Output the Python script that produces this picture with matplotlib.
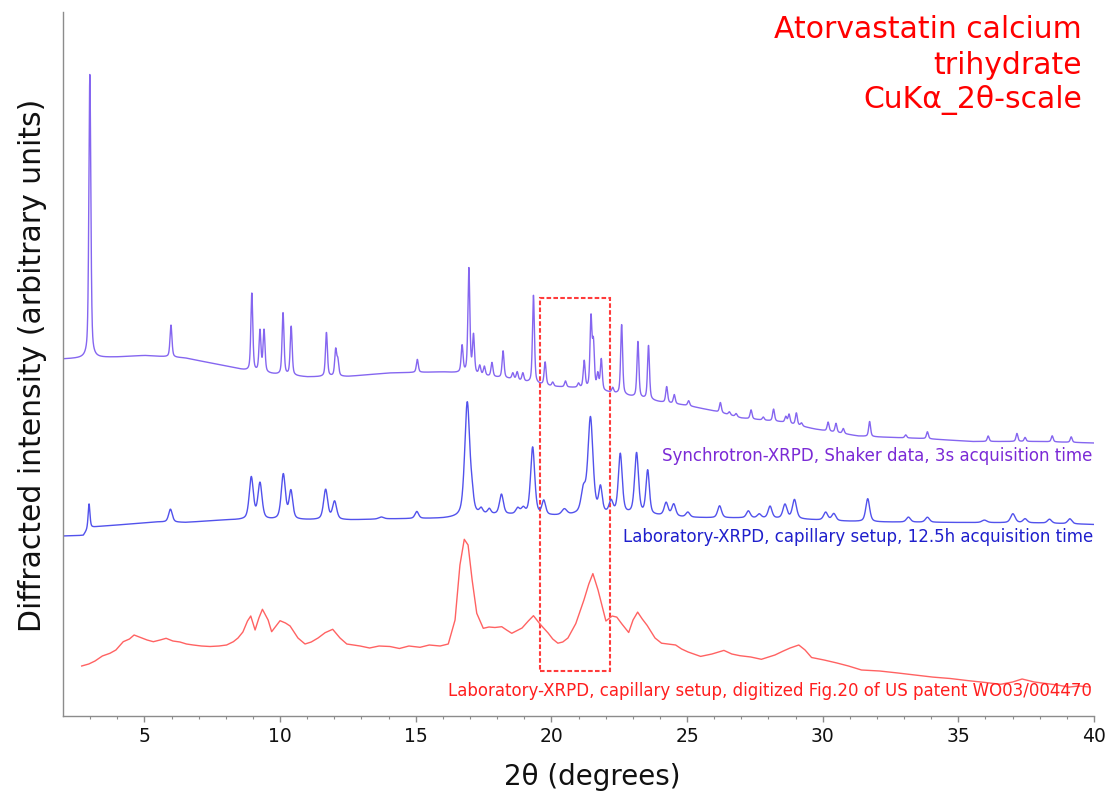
import numpy as np
import matplotlib
matplotlib.use("Agg")
import matplotlib.pyplot as plt
from matplotlib.patches import Rectangle

plt.rcParams['font.family'] = ['DejaVu Sans']

# ---------------- data ----------------
# Synchrotron pattern: background anchors and Bragg peaks (2theta, height)
sync_bg_2theta = [2.0, 4.0, 5.0, 6.5, 8.0, 8.9, 10.0, 11.0, 12.5, 14.0, 16.0, 16.6, 17.5,
                  18.5, 19.2, 20.0, 21.0, 22.0, 23.0, 24.0, 25.0, 26.0, 27.0, 28.5, 29.7,
                  31.3, 32.1, 33.7, 35.5, 38.0, 40.0]
sync_bg_level = [357, 359, 360.5, 358, 350, 344.5, 341, 339, 339.5, 343, 344, 343, 340,
                 337, 333, 329.5, 328, 324, 319, 314, 310.5, 305, 298, 294, 287,
                 280, 279, 277.5, 274.5, 274.5, 273]
sync_peak_2theta = [2.99, 5.98, 8.96, 9.26, 9.41, 10.11, 10.41, 11.71, 12.05, 12.13, 15.06,
                    16.71, 16.96, 17.13, 17.36, 17.53, 17.81, 18.22, 18.58, 18.74, 18.95,
                    19.34, 19.77, 20.05, 20.52, 21.00, 21.21, 21.46, 21.55, 21.71, 21.84,
                    22.26, 22.59, 23.19, 23.58, 24.25, 24.53, 25.06, 26.23, 26.56, 26.81,
                    27.36, 27.81, 28.19, 28.64, 28.76, 29.03, 29.22, 30.20, 30.49, 30.76,
                    31.73, 33.06, 33.86, 36.10, 37.16, 37.46, 38.46, 39.16]
sync_peak_height = [284, 32, 78, 41, 42, 62, 49, 44, 26, 15, 13,
                    27, 105, 38, 9, 9, 14, 27, 6, 8, 8,
                    88, 23, 4, 6, 4, 27, 70, 44, 15, 31,
                    5, 70, 56, 54, 16, 9, 5, 10, 3, 3,
                    9, 3, 12, 6, 9, 12, 3, 9, 9, 5,
                    15, 3, 7, 5.5, 8, 4, 6, 5.5]
sync_fwhm = 0.085

# Laboratory capillary pattern (12.5 h)
lab_bg_2theta = [2.0, 2.75, 2.95, 3.3, 4.5, 5.5, 6.5, 8.0, 8.6, 12.6, 14.0, 16.0, 16.5,
                 17.5, 18.5, 19.6, 20.5, 21.0, 22.0, 23.0, 24.0, 25.0, 26.0, 27.0, 29.0,
                 30.5, 32.0, 35.0, 38.0, 40.0]
lab_bg_level = [180, 180.5, 188, 189.5, 192, 194, 193.5, 196, 196, 196, 197, 197.5, 198,
                201, 201, 200, 200, 201, 201, 201, 200, 198.5, 198, 198, 197,
                195, 194, 193.5, 193, 191.5]
lab_peak_2theta = [2.96, 5.96, 8.94, 9.26, 10.12, 10.40, 11.68, 12.01, 13.73, 15.04,
                   16.90, 17.08, 17.41, 17.71, 18.16, 18.76, 18.96, 19.31, 19.72, 20.48,
                   21.18, 21.44, 21.81, 22.20, 22.54, 23.14, 23.55, 24.23, 24.51, 25.03,
                   26.20, 27.26, 27.66, 28.06, 28.61, 28.96, 30.11, 30.41, 31.66, 33.16,
                   33.86, 35.96, 37.01, 37.46, 38.36, 39.11]
lab_peak_height = [24, 13, 42, 36, 45, 28, 30, 18, 2, 7,
                   114, 12, 5, 5, 20, 6, 6, 68, 14, 6,
                   22, 96, 25, 12, 60, 61, 44, 13, 12, 5,
                   12, 7, 4, 12, 14, 19, 8, 7, 23, 5,
                   5, 2.5, 9, 4, 4, 5]
lab_peak_fwhm = [0.08, 0.16, 0.18, 0.18, 0.18, 0.16, 0.18, 0.18, 0.22, 0.16,
                 0.22, 0.14, 0.14, 0.14, 0.17, 0.17, 0.17, 0.18, 0.16, 0.22,
                 0.2, 0.22, 0.15, 0.17, 0.17, 0.17, 0.15, 0.17, 0.17, 0.17,
                 0.17, 0.17, 0.17, 0.17, 0.18, 0.18, 0.18, 0.18, 0.17, 0.18,
                 0.18, 0.22, 0.2, 0.18, 0.18, 0.18]

# Digitized patent pattern (Fig. 20, WO03/004470)
patent_2theta = [2.69, 2.95, 3.18, 3.45, 3.73, 3.95, 4.22, 4.45, 4.62, 4.91, 5.10, 5.33,
                 5.58, 5.80, 6.05, 6.31, 6.55, 6.80, 7.10, 7.42, 7.75, 8.03,
                 8.28, 8.45, 8.63, 8.80, 8.92, 9.08, 9.22, 9.35, 9.56, 9.69, 9.85, 10.00,
                 10.20, 10.37, 10.66, 10.92, 11.15,
                 11.40, 11.66, 11.94, 12.21, 12.46, 12.70, 12.95, 13.30, 13.65, 14.05,
                 14.40, 14.75, 15.16, 15.50, 15.90, 16.20,
                 16.45, 16.63, 16.79, 16.93, 17.08, 17.25, 17.49, 17.70, 17.92, 18.17,
                 18.35, 18.54, 18.92, 19.15, 19.34, 19.58, 19.88, 20.05, 20.24, 20.42,
                 20.61, 20.90, 21.20, 21.38, 21.53, 21.72,
                 22.01, 22.24, 22.41, 22.60, 22.85, 23.01, 23.18, 23.35, 23.53, 23.82,
                 24.06, 24.30, 24.58, 24.80, 25.04, 25.50, 25.92, 26.36, 26.65, 26.95,
                 27.35, 27.74, 28.24, 28.55, 28.80, 29.12, 29.35, 29.59, 30.05, 30.51,
                 30.95, 31.43, 32.10, 32.74, 33.40, 34.06, 34.70, 35.38, 36.00, 36.56,
                 37.00, 37.35, 37.80, 38.27, 38.65, 39.07, 39.45, 39.85]
patent_intensity = [50, 52, 55, 60, 62.7, 66, 74.3, 77, 81, 78, 76, 74.3,
                    76, 77.7, 75, 74, 72, 71, 70, 69.5, 70, 71,
                    74.3, 78, 84, 95, 100, 86, 98, 106.7, 96, 84.3, 90, 95.3,
                    93, 90, 78, 72, 74,
                    78, 83.3, 86.7, 78, 72, 71, 70, 68, 70, 69.5,
                    67.5, 70, 68.7, 71, 70, 72,
                    96, 151, 176.7, 171, 136, 102.7, 87.7, 89, 88.5, 89.3,
                    86, 82.7, 88, 95, 100.3, 92, 83, 77, 72.8, 74,
                    78, 92.4, 116, 132, 142.4, 126,
                    95, 100, 98.9, 92, 83.5, 96, 103.9, 97, 90.6, 78,
                    72.8, 72, 71, 67, 64, 59.6, 62, 65.6, 62, 60.3,
                    59, 56.7, 61, 65, 68, 71, 66, 58.5, 56, 53.1,
                    50, 46, 45, 43.1, 41, 38.9, 37.5, 35.3, 33.5, 31.7,
                    34, 37, 34, 32.4, 31, 28.9, 30, 28.9]

# highlighted 2theta window and its vertical extent
box_2theta = [19.58, 22.15]
box_level = [45, 418]

title_lines = ["Atorvastatin calcium", "trihydrate", "CuK\u03b1_2\u03b8-scale"]
sync_label = "Synchrotron-XRPD, Shaker data, 3s acquisition time"
lab_label = "Laboratory-XRPD, capillary setup, 12.5h acquisition time"
patent_label = "Laboratory-XRPD, capillary setup, digitized Fig.20 of US patent WO03/004470"


# ---------------- profile model ----------------
def pseudo_voigt(x, center, height, fwhm, eta=0.5):
    hw = fwhm / 2.0
    lor = 1.0 / (1.0 + ((x - center) / hw) ** 2)
    gau = np.exp(-np.log(2) * ((x - center) / hw) ** 2)
    return height * (eta * lor + (1 - eta) * gau)


def pattern(x, bg_x, bg_y, centers, heights, widths):
    y = np.interp(x, bg_x, bg_y)
    widths = np.broadcast_to(widths, np.shape(centers))
    for c, h, w in zip(centers, heights, widths):
        y = y + pseudo_voigt(x, c, h, w)
    return y


tt = np.arange(2.0, 40.0001, 0.004)
sync_y = pattern(tt, sync_bg_2theta, sync_bg_level, sync_peak_2theta, sync_peak_height, sync_fwhm)
lab_y = pattern(tt, lab_bg_2theta, lab_bg_level, lab_peak_2theta, lab_peak_height, lab_peak_fwhm)

# ---------------- figure ----------------
W, H = 1108, 799
fig = plt.figure(figsize=(W / 100, H / 100), dpi=100)
ax = fig.add_axes([63 / W, 83 / H, (1094 - 63) / W, 704 / H])

ax.plot(tt, sync_y, color='#8566f0', lw=1.0)
ax.plot(tt, lab_y, color='#5252ec', lw=1.0)
ax.plot(patent_2theta, patent_intensity, color='#ff6262', lw=1.0)

ax.add_patch(Rectangle((box_2theta[0], box_level[0]), box_2theta[1] - box_2theta[0],
                       box_level[1] - box_level[0], fill=False, ec='#ff3b3b', lw=1.5,
                       ls=(0, (2.2, 1.1))))

ax.set_xlim(2, 40)
ax.set_ylim(0, 704)
ax.set_xticks(np.arange(5, 41, 5))
ax.set_xticks(np.arange(3, 41, 1), minor=True)
ax.set_yticks([])
for s in ['top', 'right']:
    ax.spines[s].set_visible(False)
for s in ['left', 'bottom']:
    ax.spines[s].set_color('#8c8c8c')
    ax.spines[s].set_linewidth(1.0)
ax.tick_params(axis='x', which='major', length=4, width=1, color='#8c8c8c',
               labelsize=13.5, pad=4, labelcolor='#111111')
ax.tick_params(axis='x', which='minor', length=2.5, width=0.8, color='#8c8c8c')


def fx(px):
    return px / W


def fy(py):
    return 1 - py / H


fig.text(fx(33), fy(365), "Diffracted intensity (arbitrary units)", rotation=90,
         ha='center', va='center', fontsize=21.5, color='#111111')
fig.text(fx(592), fy(777), "2\u03b8 (degrees)", ha='center', va='center',
         fontsize=20, color='#111111')

for i, line in enumerate(title_lines):
    fig.text(fx(1082), fy(30 + 35 * i), line, ha='right', va='center',
             fontsize=21.5, color='#ff0000')

fig.text(fx(1092), fy(456), sync_label, ha='right', va='center', fontsize=12,
         color='#7b2ad6')
fig.text(fx(1093), fy(537), lab_label, ha='right', va='center', fontsize=12,
         color='#1f1fcc')
fig.text(fx(1092), fy(691), patent_label, ha='right', va='center', fontsize=12,
         color='#ff1f1f')

fig.savefig("out.png", dpi=100)
